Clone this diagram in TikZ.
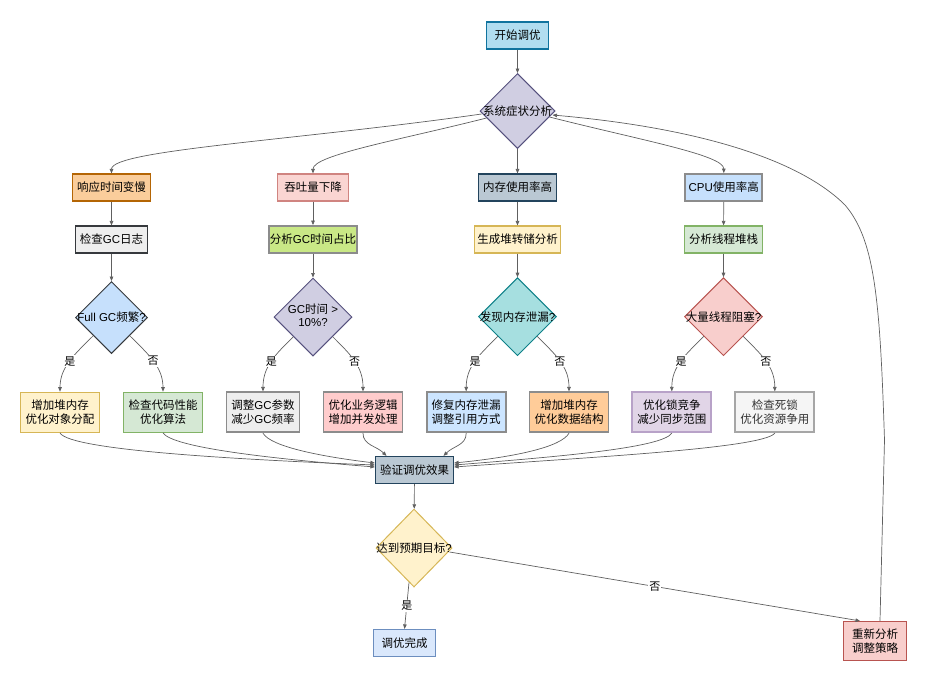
\documentclass[tikz,border=0pt]{standalone}
\usepackage{fontspec}
\setmainfont{Noto Sans CJK SC}
\newfontfamily\lat{Liberation Sans}
\usetikzlibrary{shapes.geometric,arrows.meta,calc}
\definecolor{edgec}{HTML}{606060}
\definecolor{cStartF}{HTML}{B1DDF0}\definecolor{cStartD}{HTML}{10739E}
\definecolor{cPurF}{HTML}{D0CEE2}\definecolor{cPurD}{HTML}{56517E}
\definecolor{cOrF}{HTML}{FACD9B}\definecolor{cOrD}{HTML}{B46504}
\definecolor{cPkF}{HTML}{FAD5D2}\definecolor{cPkD}{HTML}{D08480}
\definecolor{cSlF}{HTML}{BAC8D3}\definecolor{cSlD}{HTML}{23445D}
\definecolor{cLbF}{HTML}{C6E0FC}
\definecolor{cGyF}{HTML}{EEEEEE}\definecolor{cGyD}{HTML}{36393D}
\definecolor{cLgF}{HTML}{C9E886}
\definecolor{cYeF}{HTML}{FFF2CC}\definecolor{cYeD}{HTML}{D6B656}
\definecolor{cGrF}{HTML}{D5E8D4}\definecolor{cGrD}{HTML}{82B366}
\definecolor{cTeF}{HTML}{A6DFE0}\definecolor{cTeD}{HTML}{0E8088}
\definecolor{cRdF}{HTML}{F8CECC}\definecolor{cRdD}{HTML}{B85450}
\definecolor{cRsF}{HTML}{FFCCCC}
\definecolor{cBlF}{HTML}{CCE5FF}
\definecolor{cApF}{HTML}{FFCC99}
\definecolor{cViF}{HTML}{E1D5E7}\definecolor{cViD}{HTML}{B8A2C8}
\definecolor{cWhF}{HTML}{F5F5F5}\definecolor{cWhD}{HTML}{A6A6A6}
\definecolor{cTxt}{HTML}{333333}
\definecolor{cDnF}{HTML}{DAE8FC}\definecolor{cDnD}{HTML}{6C8EBF}
\definecolor{cGrayB}{HTML}{8C8C8C}
\begin{document}
\begin{tikzpicture}[x=1pt,y=-1pt,
  box/.style={draw, rectangle, minimum height=27pt, inner sep=0pt, line width=1.2pt, align=center, font=\fontsize{11.5}{13.5}\selectfont},
  tall/.style={box, minimum height=40pt},
  grayb/.style={draw=cGrayB, line width=1.8pt},
  dia/.style={draw, diamond, inner sep=0pt, line width=1pt, font=\fontsize{11.5}{13.5}\selectfont},
  arr/.style={draw=edgec, line width=0.7pt, -{Triangle[length=4.5pt,width=3.6pt]}},
  lab/.style={fill=white, inner sep=1pt, font=\fontsize{11}{13}\selectfont}]
\useasboundingbox (0,0) rectangle (930,678);

% top
\node[box, minimum width=62pt, fill=cStartF, draw=cStartD] (start) at (517.5,35.5) {开始调优};
\node[dia, minimum width=75pt, minimum height=75pt, fill=cPurF, draw=cPurD] (sys) at (517.5,111) {\makebox[0pt]{系统症状分析}};

% row 1
\node[box, minimum width=78pt, fill=cOrF, draw=cOrD] (resp) at (111.5,187.5) {响应时间变慢};
\node[box, minimum width=71pt, fill=cPkF, draw=cPkD] (thru) at (313,187.5) {吞吐量下降};
\node[box, minimum width=78pt, fill=cSlF, draw=cSlD] (mem) at (517.5,187.5) {内存使用率高};
\node[box, grayb, minimum width=77pt, fill=cLbF] (cpu) at (723.8,187.5) {{\lat CPU}使用率高};

% row 2
\node[box, minimum width=72pt, fill=cGyF, draw=cGyD] (gclog) at (111.5,239.5) {检查{\lat GC}日志};
\node[box, grayb, minimum width=88pt, fill=cLgF] (gcratio) at (313,239.5) {分析{\lat GC}时间占比};
\node[box, minimum width=86pt, fill=cYeF, draw=cYeD] (heap) at (517.5,239.5) {生成堆转储分析};
\node[box, minimum width=78pt, fill=cGrF, draw=cGrD] (thread) at (723.5,239.5) {分析线程堆栈};

% row 3 diamonds
\node[dia, minimum width=72pt, minimum height=72pt, fill=cLbF, draw=cGyD] (fgc) at (111.5,317.5) {\makebox[0pt]{{\lat Full GC}频繁{\lat ?}}};
\node[dia, minimum width=78pt, minimum height=78pt, fill=cPurF, draw=cPurD] (gct) at (313,317) {\makebox[0pt]{\begin{tabular}{@{}c@{}}{\lat GC}时间{\lat\ >}\\[-1pt]{\lat 10\%?}\end{tabular}}};
\node[dia, minimum width=78pt, minimum height=78pt, fill=cTeF, draw=cTeD] (leak) at (517.5,316.7) {\makebox[0pt]{发现内存泄漏{\lat ?}}};
\node[dia, minimum width=78pt, minimum height=78pt, fill=cRdF, draw=cRdD] (block) at (723.5,316.7) {\makebox[0pt]{大量线程阻塞{\lat ?}}};

% row 4
\node[tall, minimum width=79pt, fill=cYeF, draw=cYeD] (a1) at (60,412.3) {增加堆内存\\优化对象分配};
\node[tall, minimum width=79pt, fill=cGrF, draw=cGrD] (a2) at (163,412.3) {检查代码性能\\优化算法};
\node[tall, grayb, minimum width=73pt, fill=cGyF] (a3) at (263,412.3) {调整{\lat GC}参数\\减少{\lat GC}频率};
\node[tall, grayb, minimum width=79pt, fill=cRsF] (a4) at (363,412.3) {优化业务逻辑\\增加并发处理};
\node[tall, grayb, minimum width=79pt, fill=cBlF] (a5) at (466.2,412.3) {修复内存泄漏\\调整引用方式};
\node[tall, grayb, minimum width=79pt, fill=cApF] (a6) at (569,412.3) {增加堆内存\\优化数据结构};
\node[tall, minimum width=79pt, line width=1.8pt, fill=cViF, draw=cViD] (a7) at (671.8,412.3) {优化锁竞争\\减少同步范围};
\node[tall, minimum width=79pt, line width=1.8pt, fill=cWhF, draw=cWhD, text=cTxt] (a8) at (774.8,412.3) {检查死锁\\优化资源争用};

% bottom
\node[box, minimum width=78pt, fill=cSlF, draw=cSlD] (verify) at (414.5,470) {验证调优效果};
\node[dia, minimum width=76pt, minimum height=78pt, fill=cYeF, draw=cYeD] (goal) at (414,548) {\makebox[0pt]{达到预期目标{\lat ?}}};
\node[box, minimum width=62pt, fill=cDnF, draw=cDnD] (done) at (404.5,643) {调优完成};
\node[tall, minimum width=63pt, minimum height=39pt, fill=cRdF, draw=cRdD] (redo) at (875,641) {重新分析\\调整策略};

% edges top
\draw[arr] (start) -- (sys);
\draw[arr] ($(sys.west)+(2,3)$) .. controls (300,140) and (111.5,150) .. (resp.north);
\draw[arr] ($(sys.west)+(7,7)$) .. controls (400,140) and (313,155) .. (thru.north);
\draw[arr] (sys) -- (mem);
\draw[arr] ($(sys.east)+(-6,6)$) .. controls (640,140) and (723.8,155) .. (cpu.north);

\draw[arr] (resp) -- (gclog);
\draw[arr] (thru) -- (gcratio);
\draw[arr] (mem) -- (heap);
\draw[arr] (cpu) -- (thread);
\draw[arr] (gclog) -- (fgc);
\draw[arr] (gcratio) -- (gct);
\draw[arr] (heap) -- (leak);
\draw[arr] (thread) -- (block);

% yes / no
\draw[arr] (fgc.south west) .. controls +(-18,18) and +(0,-25) .. node[lab]{是} (a1.north);
\draw[arr] (fgc.south east) .. controls +(18,18) and +(0,-25) .. node[lab]{否} (a2.north);
\draw[arr] (gct.south west) .. controls +(-18,18) and +(0,-25) .. node[lab]{是} (a3.north);
\draw[arr] (gct.south east) .. controls +(18,18) and +(0,-25) .. node[lab]{否} (a4.north);
\draw[arr] (leak.south west) .. controls +(-18,18) and +(0,-25) .. node[lab]{是} (a5.north);
\draw[arr] (leak.south east) .. controls +(18,18) and +(0,-25) .. node[lab]{否} (a6.north);
\draw[arr] (block.south west) .. controls +(-18,18) and +(0,-25) .. node[lab]{是} (a7.north);
\draw[arr] (block.south east) .. controls +(18,18) and +(0,-25) .. node[lab]{否} (a8.north);

% to verify
\draw[arr] (a1.south) .. controls +(10,18) and +(-125,-5) .. ($(verify.west)+(0,-5)$);
\draw[arr] (a2.south) .. controls +(10,15) and +(-100,-8) .. ($(verify.west)+(0,-3)$);
\draw[arr] (a3.south) .. controls +(8,14) and +(-50,-6) .. ($(verify.west)+(0,-7)$);
\draw[arr] (a4.south) .. controls +(0,12) and +(-10,-10) .. ($(verify.north)+(-28,0)$);
\draw[arr] (a5.south) .. controls +(0,12) and +(10,-10) .. ($(verify.north)+(29,0)$);
\draw[arr] (a6.south) .. controls +(-8,14) and +(60,-6) .. ($(verify.east)+(0,-7)$);
\draw[arr] (a7.south) .. controls +(-10,15) and +(100,-8) .. ($(verify.east)+(0,-5)$);
\draw[arr] (a8.south) .. controls +(-12,15) and +(140,-10) .. ($(verify.east)+(0,-3)$);

% bottom flow
\draw[arr] (verify) -- (goal);
\draw[arr] ($(goal.south)+(-5,-5)$) -- node[lab]{是} (done.north);
\draw[arr] ($(goal.east)+(-3,4)$) -- node[lab]{否} ($(redo.north)+(-15,0)$);
\draw[arr] ($(redo.north)+(5,0)$) -- (884.5,440) .. controls (880,300) and (875,240) .. (845,205) .. controls (800,160) and (700,128) .. ($(sys.east)+(-3,4)$);
\end{tikzpicture}
\end{document}
